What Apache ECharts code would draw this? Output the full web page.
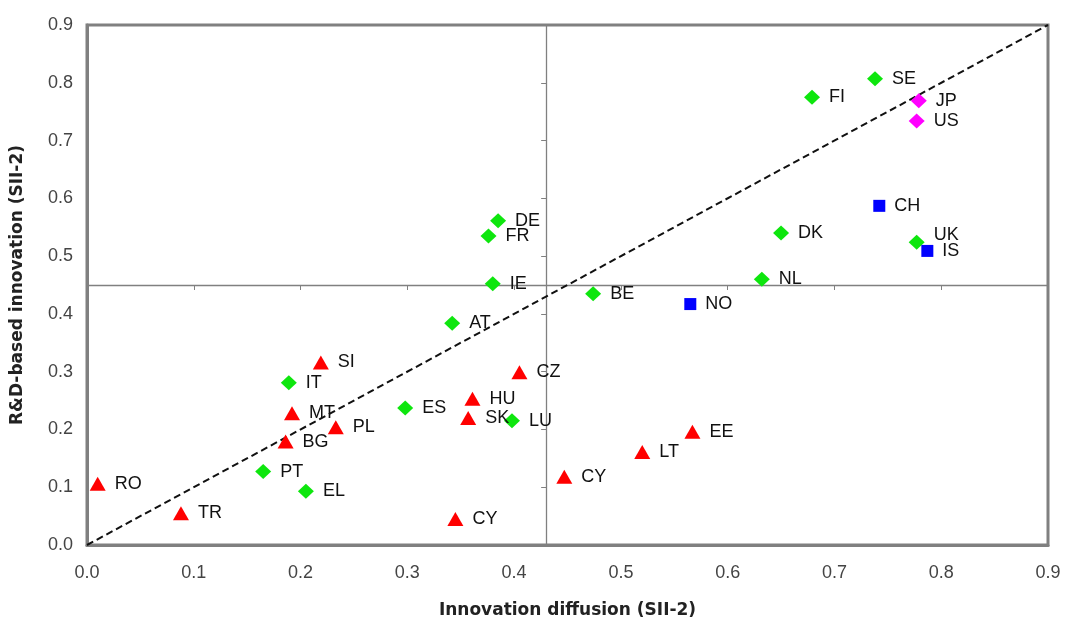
<!DOCTYPE html>
<html>
<head>
<meta charset="utf-8">
<script src="https://cdn.jsdelivr.net/npm/echarts@6/dist/echarts.min.js"></script>
<style>
html,body{margin:0;padding:0;background:#fff;}
#chart{width:1065px;height:623px;}
</style>
</head>
<body>
<div id="chart"></div>
<script>
// ---- data ----
const greenNames = ['SE','FI','DE','FR','DK','UK','IE','NL','BE','AT','IT','ES','LU','PT','EL'];
const greenX = [0.738,0.679,0.385,0.376,0.650,0.777,0.380,0.632,0.474,0.342,0.189,0.298,0.398,0.165,0.205];
const greenY = [0.807,0.775,0.561,0.535,0.540,0.524,0.452,0.460,0.435,0.384,0.281,0.237,0.215,0.127,0.093];

const magentaNames = ['JP','US'];
const magentaX = [0.779,0.777];
const magentaY = [0.769,0.734];

const blueNames = ['CH','IS','NO'];
const blueX = [0.742,0.787,0.565];
const blueY = [0.587,0.509,0.417];

const redNames = ['SI','CZ','MT','HU','PL','SK','BG','EE','LT','CY','RO','TR','CY'];
const redX = [0.219,0.405,0.192,0.361,0.233,0.357,0.186,0.567,0.520,0.447,0.010,0.088,0.345];
const redY = [0.316,0.299,0.228,0.253,0.204,0.220,0.179,0.196,0.161,0.118,0.106,0.055,0.045];

const diagX = [0, 0.9];
const diagY = [0, 0.9];

const crossX = 0.43;   // vertical reference line (innovation diffusion average)
const crossY = 0.45;   // horizontal reference line (R&D-based innovation average)

const axisMin = 0, axisMax = 0.9, axisStep = 0.1;

// ---- chart ----
const FONT = "'Liberation Sans', Arial, sans-serif";
const TITLE_FONT = "'DejaVu Sans', Verdana, sans-serif";
const GRAY = '#808080';
const labelShift = { 'UK': [0, -7] };

function pts(names, xs, ys) {
  return names.map((n, i) => {
    const d = { name: n, value: [xs[i], ys[i]] };
    if (labelShift[n]) d.label = { offset: labelShift[n] };
    return d;
  });
}

function scatter(names, xs, ys, symbol, size, color) {
  return {
    type: 'scatter',
    xAxisIndex: 0, yAxisIndex: 0,
    symbol: symbol,
    symbolSize: size,
    itemStyle: { color: color, opacity: 1 },
    data: pts(names, xs, ys),
    label: {
      show: true, position: 'right', distance: 9,
      formatter: '{b}',
      fontFamily: FONT, fontSize: 18, color: '#111'
    },
    emphasis: { disabled: true },
    z: 5
  };
}

const gridBox = { left: 87, right: 17, top: 25, bottom: 78, outerBoundsMode: 'none', containLabel: false };

const option = {
  animation: false,
  backgroundColor: '#ffffff',
  grid: [
    Object.assign({ show: true, borderColor: GRAY, borderWidth: 3, backgroundColor: 'transparent' }, gridBox),
    Object.assign({ show: false }, gridBox),
    Object.assign({ show: false }, gridBox)
  ],
  xAxis: [
    {
      gridIndex: 0, type: 'value', min: axisMin, max: axisMax, interval: axisStep,
      name: 'Innovation diffusion (SII-2)', nameLocation: 'middle', nameGap: 57,
      nameTextStyle: { fontFamily: TITLE_FONT, fontWeight: 'bold', fontSize: 17, color: '#222' },
      axisLine: { show: true, onZero: false, lineStyle: { color: GRAY, width: 3 } },
      axisTick: { show: false },
      splitLine: { show: false },
      axisLabel: { margin: 19, fontFamily: FONT, fontSize: 18, color: '#444',
        formatter: v => v.toFixed(1) }
    },
    {
      gridIndex: 1, type: 'value', min: axisMin, max: axisMax, interval: axisStep,
      axisLine: { show: true, onZero: true, lineStyle: { color: GRAY, width: 1.3 } },
      axisTick: { show: true, length: 5, lineStyle: { color: GRAY, width: 1 } },
      axisLabel: { show: false },
      splitLine: { show: false }
    },
    {
      gridIndex: 2, type: 'value', min: -crossX, max: axisMax - crossX, show: false
    }
  ],
  yAxis: [
    {
      gridIndex: 0, type: 'value', min: axisMin, max: axisMax, interval: axisStep,
      name: 'R&D-based innovation (SII-2)', nameLocation: 'middle', nameGap: 61,
      nameTextStyle: { fontFamily: TITLE_FONT, fontWeight: 'bold', fontSize: 17, color: '#222' },
      axisLine: { show: true, onZero: false, lineStyle: { color: GRAY, width: 3 } },
      axisTick: { show: false },
      splitLine: { show: false },
      axisLabel: { margin: 14, fontFamily: FONT, fontSize: 18, color: '#444',
        formatter: v => v.toFixed(1) }
    },
    {
      gridIndex: 1, type: 'value', min: -crossY, max: axisMax - crossY, show: false
    },
    {
      gridIndex: 2, type: 'value', min: axisMin, max: axisMax, interval: axisStep,
      axisLine: { show: true, onZero: true, lineStyle: { color: GRAY, width: 1.3 } },
      axisTick: { show: true, length: 5, lineStyle: { color: GRAY, width: 1 } },
      axisLabel: { show: false },
      splitLine: { show: false }
    }
  ],
  series: [
    {
      type: 'line', xAxisIndex: 0, yAxisIndex: 0,
      data: diagX.map((x, i) => [x, diagY[i]]),
      symbol: 'none', silent: true,
      lineStyle: { color: '#111', width: 2, type: [7, 4] },
      z: 3
    },
    scatter(greenNames, greenX, greenY, 'diamond', [16, 15], '#0ee60e'),
    scatter(magentaNames, magentaX, magentaY, 'diamond', [16, 15], '#ff00ff'),
    scatter(blueNames, blueX, blueY, 'rect', 12, '#0000ff'),
    scatter(redNames, redX, redY, 'triangle', [16, 14], '#ff0000')
  ]
};

const chart = echarts.init(document.getElementById('chart'), null, { renderer: 'canvas' });
chart.setOption(option);
</script>
</body>
</html>
